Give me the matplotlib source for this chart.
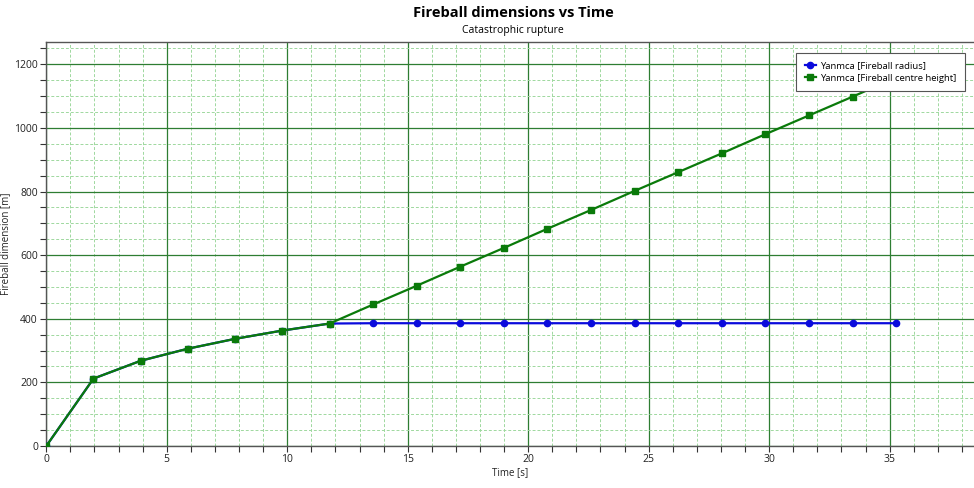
import matplotlib
matplotlib.use("Agg")
import matplotlib.pyplot as plt
from matplotlib.ticker import MultipleLocator

# time steps [s]
time_s = [0, 1.96, 3.92, 5.88, 7.84, 9.8, 11.76, 13.57, 15.38, 17.19, 19.0,
          20.8, 22.61, 24.42, 26.23, 28.04, 29.84, 31.65, 33.46, 35.27]

# fireball radius [m]
radius_m = [0, 212, 268, 306, 337, 363, 385, 386, 386, 386, 386,
            386, 386, 386, 386, 386, 386, 386, 386, 386]

# fireball centre height [m]
centre_m = [0, 212, 268, 306, 337, 363, 385, 445, 504, 564, 623,
            683, 742, 802, 861, 920, 980, 1039, 1098, 1158]

plt.rcParams['font.family'] = ['Open Sans', 'DejaVu Sans']

fig = plt.figure(figsize=(9.74, 4.88), dpi=100)
ax = fig.add_axes([0.0475, 0.086, 0.9525, 0.828])

ax.plot(time_s, radius_m, color="#0a0adc", lw=1.6, marker='o', ms=4.5,
        label="Yanmca [Fireball radius]", zorder=3)
ax.plot(time_s, centre_m, color="#0a7a0a", lw=1.6, marker='s', ms=4.5,
        label="Yanmca [Fireball centre height]", zorder=4)

ax.set_xlim(0, 38.5)
ax.set_ylim(0, 1270)
ax.xaxis.set_major_locator(MultipleLocator(5))
ax.xaxis.set_minor_locator(MultipleLocator(1))
ax.yaxis.set_major_locator(MultipleLocator(200))
ax.yaxis.set_minor_locator(MultipleLocator(50))

ax.grid(which='major', color="#2e7d32", lw=0.9, ls='-', zorder=1)
ax.grid(which='minor', color="#9ed89e", lw=0.7, ls=(0, (3, 2)), zorder=0)

ax.tick_params(which='both', direction='out', length=4, width=0.8,
               colors="#333333", labelsize=7.5, labelcolor="#222222", pad=2)
for side in ['left', 'bottom', 'top']:
    ax.spines[side].set_color("#555555")
    ax.spines[side].set_linewidth(1.0)
ax.spines['right'].set_visible(False)

ax.set_xlabel("Time [s]", fontsize=7, color="#222222", labelpad=1)
ax.set_ylabel("Fireball dimension [m]", fontsize=7, color="#222222")
ax.yaxis.set_label_coords(-0.038, 0.5)

fig.text(0.527, 0.973, "Fireball dimensions vs Time", ha='center', va='center',
         fontsize=10.5, fontweight='bold')
fig.text(0.527, 0.937, "Catastrophic rupture", ha='center', va='center',
         fontsize=7.5)

leg = ax.legend(loc='upper right', bbox_to_anchor=(0.993, 0.98), fontsize=6.8,
                frameon=True, fancybox=False, framealpha=1, edgecolor="#555555",
                borderpad=0.9, handlelength=1.2, handletextpad=0.4, labelspacing=0.35,
                borderaxespad=0.3)
leg.get_frame().set_linewidth(0.8)

fig.savefig("out.png", dpi=100)
